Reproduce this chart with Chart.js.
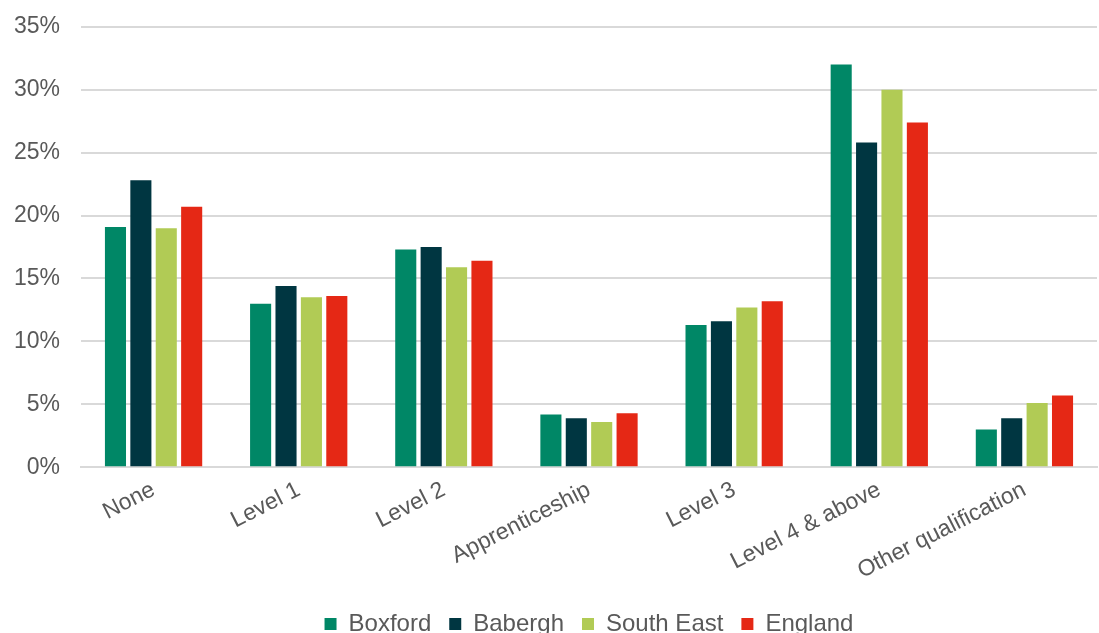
<!DOCTYPE html>
<html>
<head>
<meta charset="utf-8">
<script src="https://cdn.jsdelivr.net/npm/chart.js@4"></script>
<style>
    html, body { margin: 0; padding: 0; background: #ffffff; overflow: hidden; }
    #wrap { width: 1099px; height: 654px; position: relative; margin-top: -8px; }
</style>
</head>
<body>
<div id="wrap"><canvas id="myChart"></canvas></div>
<script>
const categories = ['None', 'Level 1', 'Level 2', 'Apprenticeship', 'Level 3', 'Level 4 & above', 'Other qualification'];
const boxford = [19.1, 13.0, 17.3, 4.2, 11.3, 32.0, 3.0];
const babergh = [22.8, 14.4, 17.5, 3.9, 11.6, 25.8, 3.9];
const southEast = [19.0, 13.5, 15.9, 3.6, 12.7, 30.0, 5.1];
const england = [20.7, 13.6, 16.4, 4.3, 13.2, 27.4, 5.7];
const yTicks = [0, 5, 10, 15, 20, 25, 30, 35];

const textColor = '#595959';
const gridColor = '#d9d9d9';
const fontFamily = '"Liberation Sans", Arial, sans-serif';

function makeDataset(label, values, color) {
    return {
        label: label,
        data: values,
        backgroundColor: color,
        borderWidth: 0,
        categoryPercentage: 0.7,
        barPercentage: 0.83
    };
}

const ctx = document.getElementById('myChart').getContext('2d');

new Chart(ctx, {
    type: 'bar',
    data: {
        labels: categories,
        datasets: [
            makeDataset('Boxford', boxford, '#008766'),
            makeDataset('Babergh', babergh, '#003641'),
            makeDataset('South East', southEast, '#b1cb55'),
            makeDataset('England', england, '#e52815')
        ]
    },
    options: {
        responsive: true,
        maintainAspectRatio: false,
        animation: false,
        layout: {
            padding: { top: 2, right: 2, left: 12, bottom: 0 }
        },
        plugins: {
            legend: {
                position: 'bottom',
                fullSize: false,
                labels: {
                    color: textColor,
                    font: { family: fontFamily, size: 24 },
                    boxWidth: 12,
                    boxHeight: 12,
                    padding: 18
                }
            },
            tooltip: { enabled: false }
        },
        scales: {
            x: {
                grid: { display: false, drawTicks: false },
                border: { color: gridColor, width: 2 },
                ticks: {
                    color: textColor,
                    font: { family: fontFamily, size: 23 },
                    minRotation: 27,
                    maxRotation: 27,
                    padding: 9
                }
            },
            y: {
                min: 0,
                max: 35,
                afterBuildTicks: function (axis) {
                    axis.ticks = yTicks.map(v => ({ value: v }));
                },
                afterFit: function (axis) {
                    axis.width = 69;
                },
                grid: { color: gridColor, lineWidth: 2, drawTicks: false },
                border: { display: false },
                ticks: {
                    color: textColor,
                    font: { family: fontFamily, size: 23 },
                    padding: 21,
                    callback: v => v + '%'
                }
            }
        }
    }
});
</script>
</body>
</html>
